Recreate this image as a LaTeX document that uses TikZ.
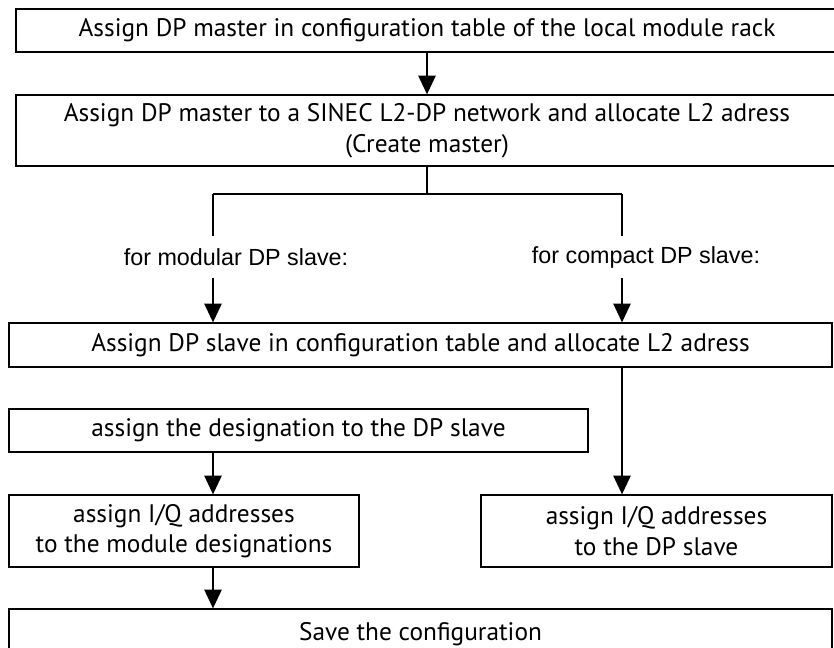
\documentclass[tikz,border=0pt]{standalone}
\usepackage{fontspec}
\setmainfont{PT Sans}
\newfontfamily\lblfont{Liberation Sans}
\usetikzlibrary{arrows.meta,positioning}

\begin{document}
\begin{tikzpicture}[x=0.75pt,y=-0.75pt]
    \tikzstyle{every path}=[line width=1pt]
    \edef\boxfontsize{19}
    \tikzstyle{stepbox}=[draw,align=center,inner sep=0pt,
      font=\fontsize{\boxfontsize}{23}\selectfont]
    \tikzstyle{branchlbl}=[inner sep=0pt,minimum height=30pt,
      font=\lblfont\fontsize{17.5}{20}\selectfont]
    \tikzstyle{flow}=[-{Triangle[length=14pt,width=13pt]}]

    \useasboundingbox (0,0) rectangle (834,647);

    \node[stepbox,minimum width=616.5pt,minimum height=32.25pt] (master) at (427,30.5)
      {Assign DP master in configuration table of the local module rack};
    \node[stepbox,minimum width=616.5pt,minimum height=53.25pt] (network) at (427,130.5)
      {Assign DP master to a SINEC L2-DP network and allocate L2 adress\\(Create master)};

    \coordinate (split) at (427,194);
    \coordinate (modline) at (213,194);
    \coordinate (cmpline) at (622,194);
    \node[branchlbl] (modular) at (236,257) {for modular DP slave:};
    \node[branchlbl] (compact) at (646,257) {for compact DP slave:};

    \node[stepbox,minimum width=617.25pt,minimum height=33pt] (slave) at (420.5,345)
      {Assign DP slave in configuration table and allocate L2 adress};
    \node[stepbox,minimum width=434.25pt,minimum height=32.25pt] (desig) at (298.5,430.5)
      {assign the designation to the DP slave};
    \node[stepbox,minimum width=262.5pt,minimum height=54pt] (modaddr) at (184,531)
      {assign I/Q addresses\\to the module designations};
    \node[stepbox,minimum width=263.25pt,minimum height=54pt] (cmpaddr) at (656.5,531)
      {assign I/Q addresses\\to the DP slave};
    \node[stepbox,minimum width=617.25pt,minimum height=37.5pt] (save) at (420.5,634)
      {Save the configuration};

    \draw[flow] (master) -- (network);
    \draw (network.south) -- (split);
    \draw (modline) -- (cmpline);
    \draw (modline) -- (modline |- modular.north);
    \draw (cmpline) -- (cmpline |- compact.north);
    \draw[flow] (modline |- modular.south) -- (modline |- slave.north);
    \draw[flow] (cmpline |- compact.south) -- (cmpline |- slave.north);
    \draw[flow] (slave.south -| cmpline) -- (cmpaddr.north -| cmpline);
    \draw[flow] (desig.south -| modline) -- (modaddr.north -| modline);
    \draw[flow] (modaddr.south -| modline) -- (save.north -| modline);
\end{tikzpicture}
\end{document}
